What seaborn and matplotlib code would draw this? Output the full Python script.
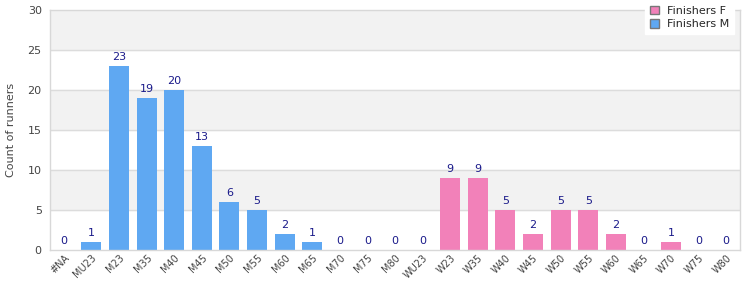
import matplotlib
matplotlib.use("Agg")
import matplotlib.pyplot as plt
from matplotlib.patches import Patch
import seaborn as sns
import pandas as pd

# data
categories = ["#NA", "MU23", "M23", "M35", "M40", "M45", "M50", "M55", "M60", "M65",
              "M70", "M75", "M80", "WU23", "W23", "W35", "W40", "W45", "W50", "W55",
              "W60", "W65", "W70", "W75", "W80"]
counts = [0, 1, 23, 19, 20, 13, 6, 5, 2, 1,
          0, 0, 0, 0, 9, 9, 5, 2, 5, 5,
          2, 0, 1, 0, 0]
series = ["Finishers M"] * 13 + ["Finishers F"] * 12
series_colors = {"Finishers F": "#f281b9", "Finishers M": "#5fa8f2"}
y_ticks = [0, 5, 10, 15, 20, 25, 30]

df = pd.DataFrame({"category": categories, "count": counts, "series": series})

sns.set_style("white")
plt.rcParams['font.family'] = ['DejaVu Sans']

fig = plt.figure(figsize=(7.5, 3), dpi=100)
ax = fig.add_axes([0.0667, 0.1667, 0.92, 0.80])

# alternating background bands
for i in range(len(y_ticks) - 1):
    if i % 2 == 1:
        ax.axhspan(y_ticks[i], y_ticks[i + 1], color="#f2f2f2", zorder=0)
for t in y_ticks[1:-1]:
    ax.axhline(t, color="#dcdcdc", lw=1, zorder=0.5)

sns.barplot(data=df, x="category", y="count", hue="series", palette=series_colors,
            dodge=False, width=0.72, order=categories, ax=ax, zorder=2, legend=False,
            saturation=1, linewidth=0)

for i, v in enumerate(counts):
    ax.text(i, v + 0.5, str(v), ha="center", va="bottom", fontsize=8, color="#1a1a8a")

ax.set_ylim(0, 30)
ax.set_xlim(-0.5, len(categories) - 0.5)
ax.set_yticks(y_ticks)
ax.tick_params(axis="y", labelsize=8, labelcolor="#444444", length=0, pad=6)
ax.tick_params(axis="x", labelsize=7, labelcolor="#444444", length=0, pad=2)
plt.setp(ax.get_xticklabels(), rotation=45, ha="right", rotation_mode="anchor")
ax.set_xlabel("")
ax.set_ylabel("Count of runners", fontsize=8, color="#444444", labelpad=8)

for s in ax.spines.values():
    s.set_color("#d8d8d8")
    s.set_linewidth(1)

handles = [Patch(facecolor=series_colors["Finishers F"], edgecolor="#777777", label="Finishers F"),
           Patch(facecolor=series_colors["Finishers M"], edgecolor="#777777", label="Finishers M")]
leg = ax.legend(handles=handles, loc="upper right", bbox_to_anchor=(0.9995, 1.06), fontsize=8,
                frameon=True, fancybox=False, framealpha=1, edgecolor="white",
                handlelength=0.8, handleheight=0.8, handletextpad=0.8, borderpad=0.4,
                labelspacing=0.3)
leg.set_zorder(5)

fig.savefig("out.png", dpi=100)
